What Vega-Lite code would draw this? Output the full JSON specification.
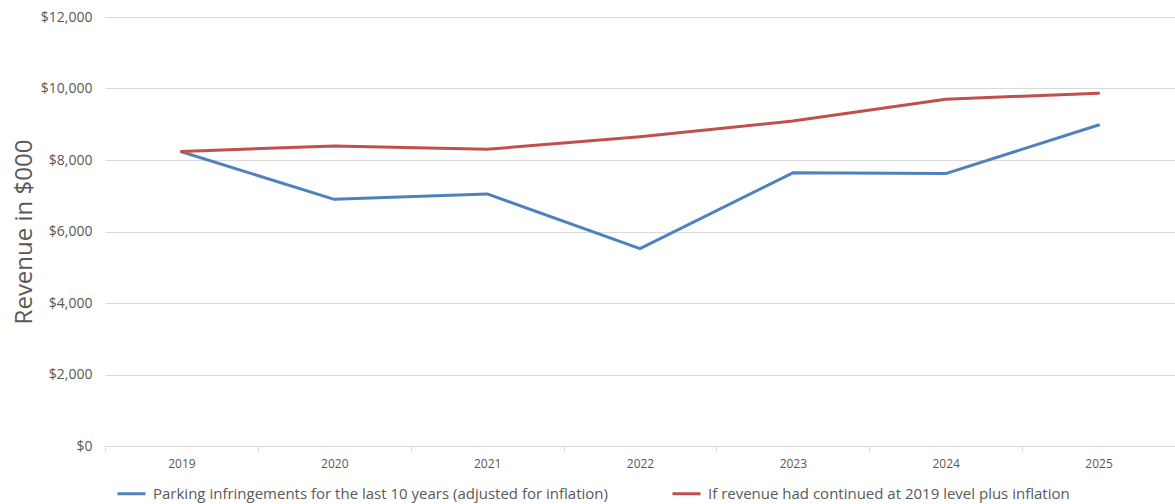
{
  "$schema": "https://vega.github.io/schema/vega-lite/v6.json",
  "width": 1070,
  "height": 429,
  "autosize": {"type": "none"},
  "padding": {"left": 105, "top": 17, "right": 0, "bottom": 58},
  "background": "white",
  "config": {
    "view": {"stroke": null},
    "font": "Open Sans"
  },
  "data": {
    "values": [
      {"year": "2019", "series": "Parking infringements for the last 10 years (adjusted for inflation)", "value": 8230},
      {"year": "2020", "series": "Parking infringements for the last 10 years (adjusted for inflation)", "value": 6900},
      {"year": "2021", "series": "Parking infringements for the last 10 years (adjusted for inflation)", "value": 7050},
      {"year": "2022", "series": "Parking infringements for the last 10 years (adjusted for inflation)", "value": 5520},
      {"year": "2023", "series": "Parking infringements for the last 10 years (adjusted for inflation)", "value": 7640},
      {"year": "2024", "series": "Parking infringements for the last 10 years (adjusted for inflation)", "value": 7620},
      {"year": "2025", "series": "Parking infringements for the last 10 years (adjusted for inflation)", "value": 8980},
      {"year": "2019", "series": "If revenue had continued at 2019 level plus inflation", "value": 8240},
      {"year": "2020", "series": "If revenue had continued at 2019 level plus inflation", "value": 8390},
      {"year": "2021", "series": "If revenue had continued at 2019 level plus inflation", "value": 8300},
      {"year": "2022", "series": "If revenue had continued at 2019 level plus inflation", "value": 8650},
      {"year": "2023", "series": "If revenue had continued at 2019 level plus inflation", "value": 9090},
      {"year": "2024", "series": "If revenue had continued at 2019 level plus inflation", "value": 9700},
      {"year": "2025", "series": "If revenue had continued at 2019 level plus inflation", "value": 9870}
    ]
  },
  "mark": {"type": "line", "strokeWidth": 3, "strokeCap": "round", "strokeJoin": "round"},
  "encoding": {
    "x": {
      "field": "year",
      "type": "ordinal",
      "scale": {"type": "band", "paddingInner": 0, "paddingOuter": 0},
      "axis": {
        "title": null,
        "labelAngle": 0,
        "labelFont": "Open Sans",
        "labelFontSize": 12,
        "labelColor": "#595959",
        "labelPadding": 7,
        "tickBand": "extent",
        "tickColor": "#d9d9d9",
        "tickSize": 5,
        "domainColor": "#d9d9d9",
        "grid": false
      }
    },
    "y": {
      "field": "value",
      "type": "quantitative",
      "scale": {"domain": [0, 12000], "nice": false},
      "axis": {
        "title": "Revenue in $000",
        "titleFont": "Open Sans",
        "titleFontSize": 24,
        "titleFontWeight": "normal",
        "titleColor": "#595959",
        "titlePadding": 4,
        "values": [0, 2000, 4000, 6000, 8000, 10000, 12000],
        "format": "$,.0f",
        "labelFont": "Open Sans",
        "labelFontSize": 14,
        "labelColor": "#595959",
        "labelPadding": 13,
        "domain": false,
        "ticks": false,
        "grid": true,
        "gridColor": "#d9d9d9",
        "gridWidth": 1
      }
    },
    "color": {
      "field": "series",
      "type": "nominal",
      "sort": ["Parking infringements for the last 10 years (adjusted for inflation)", "If revenue had continued at 2019 level plus inflation"],
      "scale": {
        "domain": ["Parking infringements for the last 10 years (adjusted for inflation)", "If revenue had continued at 2019 level plus inflation"],
        "range": ["#4f81bd", "#c0504d"]
      },
      "legend": {
        "title": null,
        "orient": "none",
        "legendX": 11,
        "legendY": 461,
        "direction": "horizontal",
        "symbolType": "stroke",
        "symbolStrokeWidth": 3,
        "symbolSize": 784,
        "labelFont": "Open Sans",
        "labelFontSize": 15,
        "labelColor": "#595959",
        "labelLimit": 600,
        "labelOffset": 6,
        "columnPadding": 58
      }
    }
  }
}
